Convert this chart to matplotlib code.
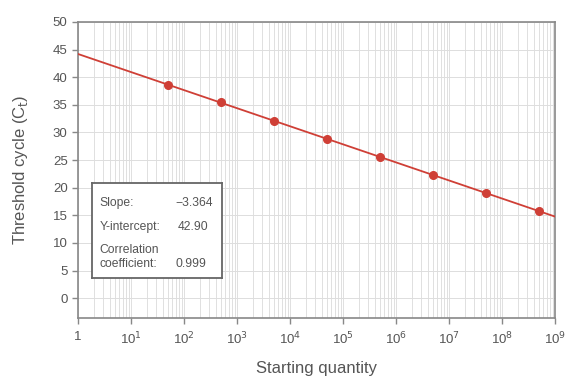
import matplotlib.pyplot as plt
import numpy as np
from matplotlib.ticker import LogLocator, FixedLocator

plt.rcParams['font.family'] = ['Liberation Sans', 'DejaVu Sans']

# data
quantity = [5e1, 5e2, 5e3, 5e4, 5e5, 5e6, 5e7, 5e8]
ct = [38.6, 35.5, 32.1, 28.8, 25.5, 22.3, 19.0, 15.8]
x_ticks = [1, 1e1, 1e2, 1e3, 1e4, 1e5, 1e6, 1e7, 1e8, 1e9]
x_tick_labels = ['1', '10$^1$', '10$^2$', '10$^3$', '10$^4$', '10$^5$',
                 '10$^6$', '10$^7$', '10$^8$', '10$^9$']
y_ticks = [0, 5, 10, 15, 20, 25, 30, 35, 40, 45, 50]

red = '#cf3f36'
grey = '#555555'

# fit line (log scale)
k, b = np.polyfit(np.log10(quantity), ct, 1)
line_x = np.array([1, 1e9])
line_y = k * np.log10(line_x) + b

fig = plt.figure(figsize=(5.65, 3.81), dpi=100)
ax = fig.add_axes([78/565, 1 - 318/381, 477/565, 296/381])

ax.set_xscale('log')
ax.set_xlim(1, 1e9)
ax.set_ylim(-3.6, 50)

ax.plot(line_x, line_y, color=red, lw=1.3, zorder=3)
ax.plot(quantity, ct, 'o', color=red, ms=5.5, zorder=4)

ax.xaxis.set_major_locator(FixedLocator(x_ticks))
ax.set_xticklabels(x_tick_labels)
ax.xaxis.set_minor_locator(LogLocator(base=10, subs=np.arange(2, 10), numticks=100))
ax.set_yticks(y_ticks)

ax.grid(True, which='both', axis='x', color='#e0e0e0', lw=0.7)
ax.grid(True, which='major', axis='y', color='#dddddd', lw=0.7)
ax.set_axisbelow(True)

for s in ax.spines.values():
    s.set_color('#888888')
    s.set_linewidth(1.2)
ax.tick_params(axis='both', which='major', colors='#888888', labelcolor=grey,
               labelsize=9.5, length=4, width=1)
ax.tick_params(axis='x', which='minor', length=0)
ax.tick_params(axis='x', pad=5)

ax.set_xlabel('Starting quantity', fontsize=12, color=grey, labelpad=10)
ax.set_ylabel('Threshold cycle (C$_\\mathrm{t}$)', fontsize=12, color=grey, labelpad=16)

# info box
box = ax.inset_axes([0.029, 0.135, 0.273, 0.321])
box.set_xticks([])
box.set_yticks([])
box.set_facecolor('white')
for s in box.spines.values():
    s.set_color('#666666')
    s.set_linewidth(1.3)
box.set_zorder(5)
fs = 8.7
box.text(0.06, 0.79, 'Slope:', fontsize=fs, color=grey, va='center')
box.text(0.93, 0.79, '\u22123.364', fontsize=fs, color=grey, va='center', ha='right')
box.text(0.06, 0.54, 'Y-intercept:', fontsize=fs, color=grey, va='center')
box.text(0.66, 0.54, '42.90', fontsize=fs, color=grey, va='center')
box.text(0.06, 0.30, 'Correlation', fontsize=fs, color=grey, va='center')
box.text(0.06, 0.15, 'coefficient:', fontsize=fs, color=grey, va='center')
box.text(0.64, 0.15, '0.999', fontsize=fs, color=grey, va='center')

fig.savefig('out.png', dpi=100)
